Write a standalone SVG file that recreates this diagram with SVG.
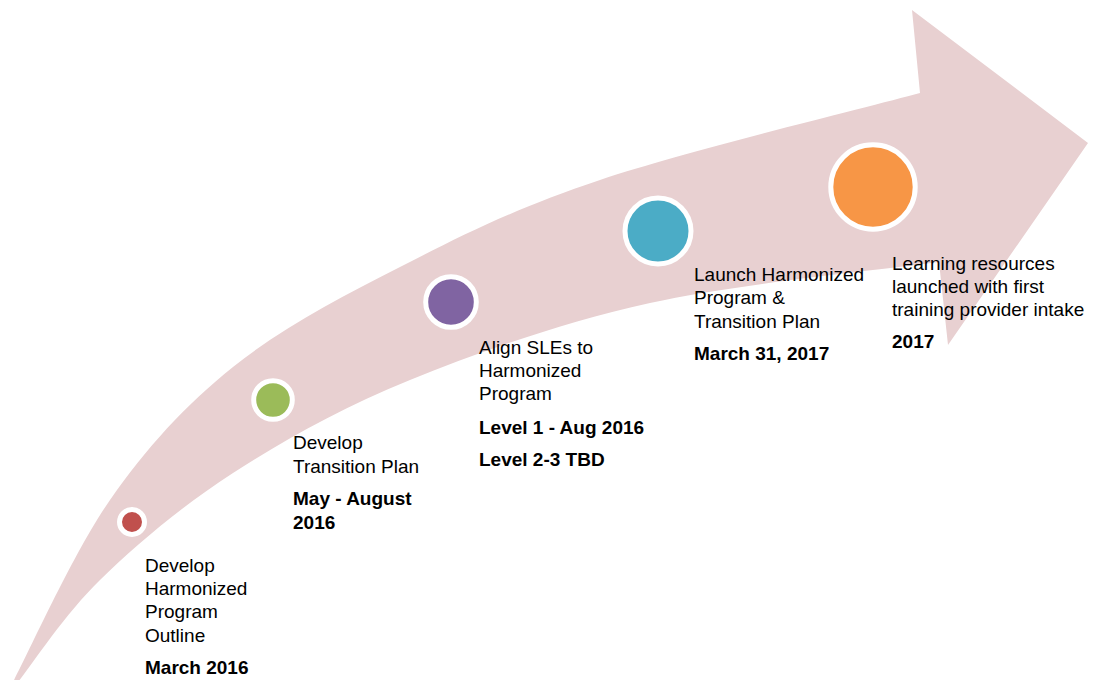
<svg xmlns="http://www.w3.org/2000/svg" width="1101" height="680" viewBox="0 0 1101 680">
<style>
.lbl{font-family:"Liberation Sans",Arial,sans-serif;font-size:19px;fill:#000}
.b{font-weight:bold}
.ring{stroke:#fff;stroke-width:5}
</style>
<rect width="1101" height="680" fill="#fff"/>
<g id="arrow">
<path fill="#E8D0D1" d="M13,682 C29.2,651.7 73.3,552.5 110,500 C146.7,447.5 184.7,405.8 233,367 C281.3,328.2 338.8,298.2 400,267 C461.2,235.8 513.3,209 600,180 C686.7,151 866.7,107.5 920,93 L912,10 L1088,143 L948,345 L939,262 C890.8,268.8 738.2,283.3 650,303 C561.8,322.7 479.5,351.7 410,380 C340.5,408.3 284.7,439.7 233,473 C181.3,506.3 135.8,545.2 100,580 C64.2,614.8 31.7,665 18,682 Z"/>
</g>
<g id="connectors"></g>
<g id="node1">
<circle class="ring" cx="132" cy="522" r="12.5" fill="#C0504D"/>
<text class="lbl" x="145" y="572">Develop</text>
<text class="lbl" x="145" y="595">Harmonized</text>
<text class="lbl" x="145" y="618">Program</text>
<text class="lbl" x="145" y="642">Outline</text>
<text class="lbl b" x="145" y="674">March 2016</text>
</g>
<g id="node2">
<circle class="ring" cx="273" cy="400" r="19.3" fill="#9BBB59"/>
<text class="lbl" x="293" y="449">Develop</text>
<text class="lbl" x="293" y="473">Transition Plan</text>
<text class="lbl b" x="293" y="505">May - August</text>
<text class="lbl b" x="293" y="529">2016</text>
</g>
<g id="node3">
<circle class="ring" cx="451" cy="302" r="25.3" fill="#8064A2"/>
<text class="lbl" x="479" y="354">Align SLEs to</text>
<text class="lbl" x="479" y="377">Harmonized</text>
<text class="lbl" x="479" y="400">Program</text>
<text class="lbl b" x="479" y="434">Level 1 - Aug 2016</text>
<text class="lbl b" x="479" y="466">Level 2-3 TBD</text>
</g>
<g id="node4">
<circle class="ring" cx="658" cy="231" r="33" fill="#4BACC6"/>
<text class="lbl" x="694" y="281">Launch Harmonized</text>
<text class="lbl" x="694" y="304">Program &amp;</text>
<text class="lbl" x="694" y="328">Transition Plan</text>
<text class="lbl b" x="694" y="360">March 31, 2017</text>
</g>
<g id="node5">
<circle class="ring" cx="873" cy="187" r="42.2" fill="#F79646"/>
<text class="lbl" x="892" y="270">Learning resources</text>
<text class="lbl" x="892" y="293">launched with first</text>
<text class="lbl" x="892" y="316">training provider intake</text>
<text class="lbl b" x="892" y="348">2017</text>
</g>
</svg>
